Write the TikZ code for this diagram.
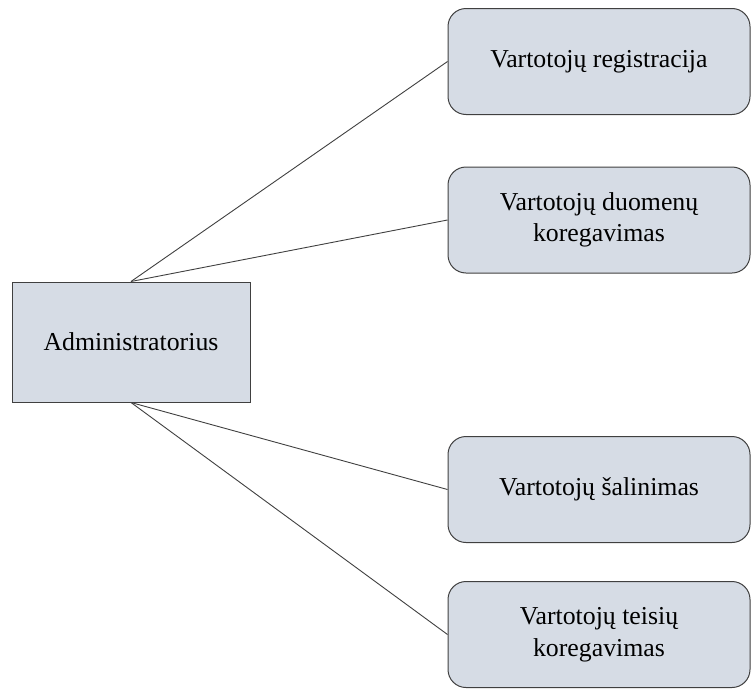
\documentclass[tikz,border=0pt]{standalone}
\usepackage{fontspec}
\setmainfont{Liberation Serif}
\definecolor{boxfill}{HTML}{D6DCE5}
\definecolor{edgegray}{HTML}{404040}
\begin{document}
\begin{tikzpicture}[x=1pt,y=-1pt,
  task/.style={draw=edgegray, fill=boxfill, rounded corners=18pt, line width=1pt,
    minimum width=302pt, minimum height=106pt, align=center, inner sep=0pt,
    font=\fontsize{25.8}{31.5}\selectfont},
  actor/.style={draw=edgegray, fill=boxfill, line width=1pt,
    minimum width=238pt, minimum height=120pt, inner sep=0pt,
    font=\fontsize{25.8}{31.5}\selectfont},
  link/.style={draw=edgegray, line width=0.9pt}]
\useasboundingbox (0,0) rectangle (751,688);
% actor on the left
\node[actor] (admin) at (131,342) {Administratorius};
% use cases on the right
\node[task] (reg) at (599,61.5) {Vartotojų registracija};
\node[task] (edit) at (599,220) {Vartotojų duomenų\\koregavimas};
\node[task] (del) at (599,489.5) {Vartotojų šalinimas};
\node[task] (rights) at (599,634.5) {Vartotojų teisių\\koregavimas};
% associations
\draw[link] (admin.north) -- (reg.west);
\draw[link] (admin.north) -- (edit.west);
\draw[link] (admin.south) -- (del.west);
\draw[link] (admin.south) -- (rights.west);
\end{tikzpicture}
\end{document}
